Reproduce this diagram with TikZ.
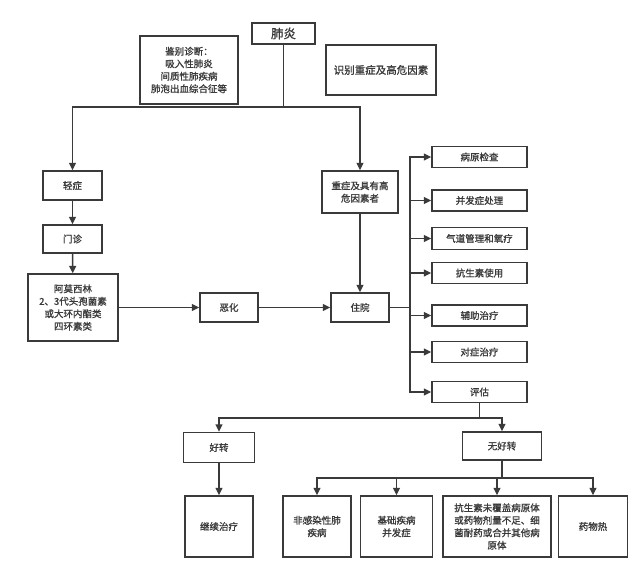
\documentclass[tikz,border=0pt]{standalone}
\usepackage{fontspec}
\setmainfont{Noto Sans CJK SC}[FakeBold=1.2]
\usetikzlibrary{arrows.meta}
\definecolor{ink}{HTML}{3A3A3A}
\tikzset{
  box/.style={draw=ink, line width=1.4pt, fill=white, align=center, text=ink,
    font=\fontsize{9.5}{12.5}\selectfont, inner sep=0pt},
  conn/.style={draw=ink, line width=1.4pt},
  arr/.style={conn, -{Triangle[length=7.5pt,width=7pt]}}
}
\begin{document}
\begin{tikzpicture}[x=1pt,y=-1pt]
\fill[white] (0,0) rectangle (640,570);
\useasboundingbox (0,0) rectangle (640,570);
% top
\node[box, minimum width=63pt, minimum height=21pt, font=\fontsize{12.5}{14}\selectfont] (feiyan) at (283.5,33.5) {肺炎};
\node[box, minimum width=98pt, minimum height=68pt] (jianbie) at (189,70) {鉴别诊断：\\吸入性肺炎\\间质性肺疾病\\肺泡出血综合征等};
\node[box, minimum width=110pt, minimum height=50pt, font=\fontsize{10.5}{12.5}\selectfont] (shibie) at (381,70) {识别重症及高危因素};
% left chain
\node[box, minimum width=59pt, minimum height=29pt] (qingzheng) at (72.5,185.5) {轻症};
\node[box, minimum width=59pt, minimum height=28pt] (menzhen) at (72.5,239) {门诊};
\node[box, minimum width=90pt, minimum height=67pt] (amx) at (73,307.5) {阿莫西林\\2、3代头孢菌素\\或大环内酯类\\四环素类};
\node[box, minimum width=58pt, minimum height=29pt] (ehua) at (229,307.5) {恶化};
\node[box, minimum width=58pt, minimum height=29pt] (zhuyuan) at (360,307.5) {住院};
\node[box, minimum width=76pt, minimum height=42pt] (zhongzheng) at (360,192) {重症及具有高\\危因素者};
% right column
\node[box, minimum width=95pt, minimum height=21pt] (r1) at (479.5,157) {病原检查};
\node[box, minimum width=95pt, minimum height=21pt] (r2) at (479.5,200.5) {并发症处理};
\node[box, minimum width=95pt, minimum height=22pt] (r3) at (479.5,238.5) {气道管理和氧疗};
\node[box, minimum width=95pt, minimum height=21pt] (r4) at (479.5,273) {抗生素使用};
\node[box, minimum width=95pt, minimum height=21pt] (r5) at (479.5,315.5) {辅助治疗};
\node[box, minimum width=95pt, minimum height=21pt] (r6) at (479.5,352) {对症治疗};
\node[box, minimum width=95pt, minimum height=21pt] (r7) at (479.5,392) {评估};
% bottom
\node[box, minimum width=71pt, minimum height=30pt] (hao) at (219,447.5) {好转};
\node[box, minimum width=79pt, minimum height=28pt] (wuhao) at (502,446) {无好转};
\node[box, minimum width=68pt, minimum height=61pt] (jixu) at (219,526.5) {继续治疗};
\node[box, minimum width=68pt, minimum height=61pt] (b1) at (317,526.5) {非感染性肺\\疾病};
\node[box, minimum width=72pt, minimum height=61pt] (b2) at (396.5,526.5) {基础疾病\\并发症};
\node[box, minimum width=108pt, minimum height=61pt] (b3) at (497,526.5) {抗生素未覆盖病原体\\或药物剂量不足、细\\菌耐药或合并其他病\\原体};
\node[box, minimum width=69pt, minimum height=61pt] (b4) at (593,526.5) {药物热};
% junctions
\coordinate (j1) at (283.5,107);
\coordinate (t) at (410,307.5);
\coordinate (j2) at (479.5,418);
\coordinate (j3) at (502,478);
% connectors
\draw[conn] (feiyan.south) -- (j1);
\draw[arr] (j1) -| (qingzheng.north);
\draw[arr] (j1) -| (zhongzheng.north);
\draw[arr] (qingzheng) -- (menzhen);
\draw[arr] (menzhen) -- (amx);
\draw[arr] (amx) -- (ehua);
\draw[arr] (ehua) -- (zhuyuan);
\draw[arr] (zhongzheng) -- (zhuyuan);
\draw[conn] (zhuyuan.east) -- (t);
\foreach \r in {r1,r2,r3,r4,r5,r6,r7} {\draw[arr] (t) |- (\r.west);}
\draw[conn] (r7.south) -- (j2);
\draw[arr] (j2) -| (hao.north);
\draw[arr] (j2) -| (wuhao.north);
\draw[arr] (hao) -- (jixu);
\draw[conn] (wuhao.south) -- (j3);
\foreach \b in {b1,b2,b3,b4} {\draw[arr] (j3) -| (\b.north);}
\end{tikzpicture}
\end{document}
